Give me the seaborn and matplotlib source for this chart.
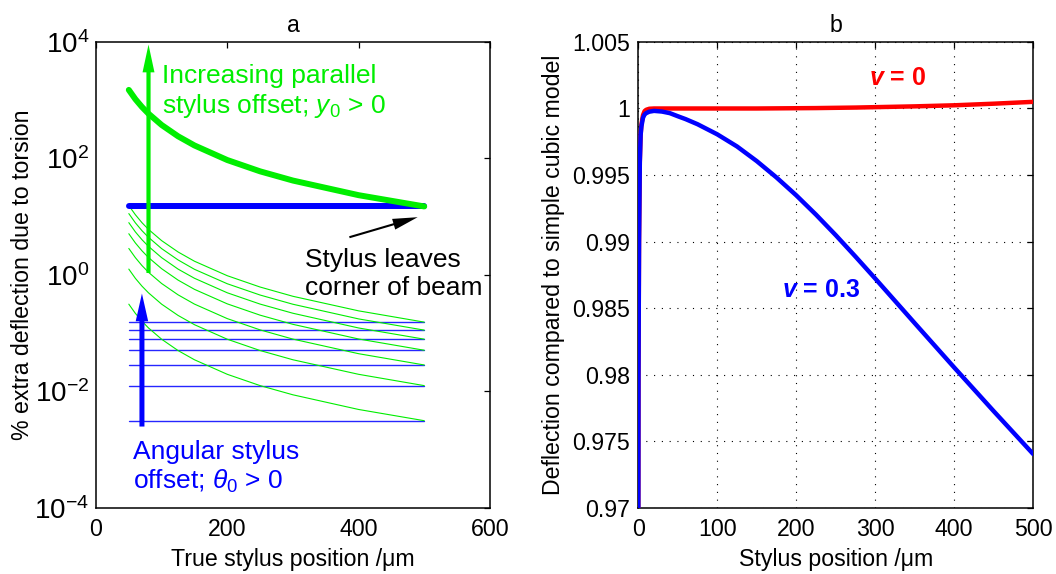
import matplotlib

matplotlib.use("Agg")

import matplotlib.pyplot as plt
import seaborn as sns


# ---- panel a data ----
X_A = [50, 60, 70, 80, 100, 125, 150, 200, 250, 300, 400, 500]
PARALLEL_THICK = [1500, 1040, 765, 586, 375, 240, 167, 93.8, 60, 41.7, 23.4, 15.0]
PARALLEL_THIN = [
    [15.5, 10.8, 7.9, 6.05, 3.88, 2.48, 1.72, 0.97, 0.62, 0.43, 0.242, 0.155],
    [11.3, 7.84, 5.76, 4.42, 2.83, 1.81, 1.25, 0.706, 0.452, 0.314, 0.176, 0.113],
    [7.9, 5.48, 4.03, 3.09, 1.98, 1.26, 0.877, 0.494, 0.316, 0.22, 0.123, 0.079],
    [5.1, 3.54, 2.6, 1.99, 1.28, 0.816, 0.566, 0.319, 0.204, 0.142, 0.0796, 0.051],
    [2.85, 1.98, 1.45, 1.11, 0.713, 0.456, 0.316, 0.178, 0.114, 0.0792, 0.0445, 0.0285],
    [1.26, 0.874, 0.643, 0.493, 0.315, 0.202, 0.14, 0.0788, 0.0504, 0.035, 0.0197, 0.0126],
    [0.315, 0.219, 0.161, 0.123, 0.0788, 0.0504, 0.035, 0.0197, 0.0126, 0.00876, 0.00491, 0.00315],
]
ANGULAR_THICK = 15.0
ANGULAR_THIN = [0.155, 0.113, 0.079, 0.051, 0.0285, 0.0126, 0.00315]
X_RANGE_A = [50, 500]
Y_TICKS_A = [1e-4, 1e-2, 1e0, 1e2, 1e4]
Y_TICKLABELS_A = ["$10^{-4}$", "$10^{-2}$", "$10^{0}$", "$10^{2}$", "$10^{4}$"]
X_TICKS_A = [0, 200, 400, 600]

# ---- panel b data ----
X_B = [0, 0.3, 1, 2, 3, 4, 6, 8, 10, 14, 20, 30, 40, 50, 60, 75, 100, 125, 150,
       175, 200, 225, 250, 275, 300, 350, 400, 450, 500]
NU_0 = [0.965, 0.98, 0.99, 0.996, 0.998, 0.9988, 0.9995, 0.9998, 0.9999, 0.99998,
        1.0, 1.0, 1.0, 1.0, 1.0, 1.0, 1.0, 1.0, 1.0,
        1.00001, 1.00002, 1.00003, 1.00005, 1.00007, 1.0001, 1.00016, 1.00024, 1.00036, 1.0005]
NU_03 = [0.965, 0.98, 0.99, 0.996, 0.998, 0.99865, 0.9993, 0.99955, 0.99965, 0.99976,
         0.99982, 0.99977, 0.99965, 0.99942, 0.9992, 0.99882, 0.99806, 0.99715, 0.99605,
         0.99482, 0.99348, 0.99203, 0.99049, 0.98888, 0.98723, 0.98388, 0.98055, 0.97727, 0.97405]
Y_TICKS_B = [0.97, 0.975, 0.98, 0.985, 0.99, 0.995, 1.0, 1.005]
Y_TICKLABELS_B = ["0.97", "0.975", "0.98", "0.985", "0.99", "0.995", "1", "1.005"]
X_TICKS_B = [0, 100, 200, 300, 400, 500]

GREEN = "#00ee00"
BLUE = "#0000ff"
RED = "#ff0000"
FS = 16.7


def style_axes(ax):
    for sp in ax.spines.values():
        sp.set_visible(True)
        sp.set_color("black")
        sp.set_linewidth(1.1)
    ax.tick_params(direction="in", length=4.5, width=0.9, top=True, right=True,
                   labelsize=FS, colors="black")
    ax.tick_params(axis="x", pad=7.5)
    ax.tick_params(axis="y", pad=6)
    ax.minorticks_off()


def plot_a(ax):
    for level in ANGULAR_THIN:
        sns.lineplot(x=X_RANGE_A, y=[level, level], ax=ax, color=BLUE, linewidth=1.0,
                     alpha=0.85, estimator=None, sort=False, legend=False, zorder=2)
    for curve in PARALLEL_THIN:
        sns.lineplot(x=X_A, y=curve, ax=ax, color=GREEN, linewidth=0.8,
                     estimator=None, sort=False, legend=False, zorder=3)
    sns.lineplot(x=X_RANGE_A, y=[ANGULAR_THICK, ANGULAR_THICK], ax=ax, color=BLUE,
                 linewidth=4.3, estimator=None, sort=False, legend=False, zorder=4)
    sns.lineplot(x=X_A, y=PARALLEL_THICK, ax=ax, color=GREEN, linewidth=4.3,
                 estimator=None, sort=False, legend=False, zorder=5)

    ax.set_yscale("log")
    ax.set_xlim(0, 600)
    ax.set_ylim(1e-4, 1e4)
    ax.set_xticks(X_TICKS_A)
    ax.set_yticks(Y_TICKS_A)
    ax.set_yticklabels(Y_TICKLABELS_A)
    style_axes(ax)
    ax.tick_params(axis="y", labelsize=20, pad=5)

    ax.annotate("", xy=(80, 9000), xytext=(80, 1.08), zorder=6,
                arrowprops=dict(arrowstyle="simple,head_length=2.0,head_width=0.86,tail_width=0.3",
                                mutation_scale=10, fc=GREEN, ec="none", shrinkA=0, shrinkB=0))
    ax.annotate("", xy=(70, 0.48), xytext=(70, 0.0025), zorder=6,
                arrowprops=dict(arrowstyle="simple,head_length=2.0,head_width=0.9,tail_width=0.36",
                                mutation_scale=10, fc=BLUE, ec="none", shrinkA=0, shrinkB=0))
    ax.annotate("", xy=(490, 9.8), xytext=(386, 4.44), zorder=6,
                arrowprops=dict(arrowstyle="simple,head_length=1.8,head_width=0.8,tail_width=0.15",
                                mutation_scale=10, fc="black", ec="none", shrinkA=0, shrinkB=0))

    ax.text(0.167, 0.892, "Increasing parallel\nstylus offset; $y_0$ > 0", transform=ax.transAxes,
            color=GREEN, fontsize=19, ha="left", va="center", zorder=7)
    ax.text(0.53, 0.502, "Stylus leaves\ncorner of beam", transform=ax.transAxes,
            color="black", fontsize=19, ha="left", va="center", zorder=7)
    ax.text(0.095, 0.087, "Angular stylus\noffset; $\\theta_0$ > 0", transform=ax.transAxes,
            color=BLUE, fontsize=19, ha="left", va="center", zorder=7)

    ax.set_title("a", fontsize=FS, pad=7, color="black")
    ax.set_xlabel("True stylus position /μm", fontsize=FS, labelpad=4.5)
    ax.set_ylabel("% extra deflection due to torsion", fontsize=FS, labelpad=0)


def plot_b(ax):
    sns.lineplot(x=X_B, y=NU_0, ax=ax, color=RED, linewidth=3.2,
                 estimator=None, sort=False, legend=False, zorder=3)
    sns.lineplot(x=X_B, y=NU_03, ax=ax, color=BLUE, linewidth=3.2,
                 estimator=None, sort=False, legend=False, zorder=4)
    ax.set_xlim(0, 500)
    ax.set_ylim(0.97, 1.005)
    ax.set_xticks(X_TICKS_B)
    ax.set_yticks(Y_TICKS_B)
    ax.set_yticklabels(Y_TICKLABELS_B)
    style_axes(ax)
    ax.grid(True, color="black", linestyle=(0, (1, 6)), linewidth=0.8)
    ax.set_axisbelow(True)

    ax.text(329, 1.0023, "$\\mathbfit{v}$ = 0", color=RED, fontsize=18, fontweight="bold",
            ha="center", va="center", zorder=7)
    ax.text(232, 0.98637, "$\\mathbfit{v}$ = 0.3", color=BLUE, fontsize=18, fontweight="bold",
            ha="center", va="center", zorder=7)

    ax.set_title("b", fontsize=FS, pad=7, color="black")
    ax.set_xlabel("Stylus position /μm", fontsize=FS, labelpad=4.5)
    ax.set_ylabel("Deflection compared to simple cubic model", fontsize=FS, labelpad=5)


def main():
    sns.set_theme(style="white")
    plt.rcParams.update({
        "font.family": ["Liberation Sans", "DejaVu Sans"],
        "text.color": "black",
        "axes.labelcolor": "black",
        "xtick.color": "black",
        "ytick.color": "black",
        "mathtext.fontset": "custom",
        "mathtext.rm": "Liberation Sans",
        "mathtext.it": "Liberation Sans:italic",
        "mathtext.bf": "Liberation Sans:bold",
        "mathtext.bfit": "Liberation Sans:italic:bold",
        "axes.unicode_minus": True,
    })

    fig = plt.figure(figsize=(10.56, 5.74), dpi=100)
    ax_a = fig.add_axes([0.0909, 0.115, 0.373, 0.812])
    ax_b = fig.add_axes([0.6044, 0.115, 0.374, 0.812])
    plot_a(ax_a)
    plot_b(ax_b)
    fig.savefig("out.png", dpi=100, facecolor="white")
    plt.close(fig)


if __name__ == "__main__":
    main()
